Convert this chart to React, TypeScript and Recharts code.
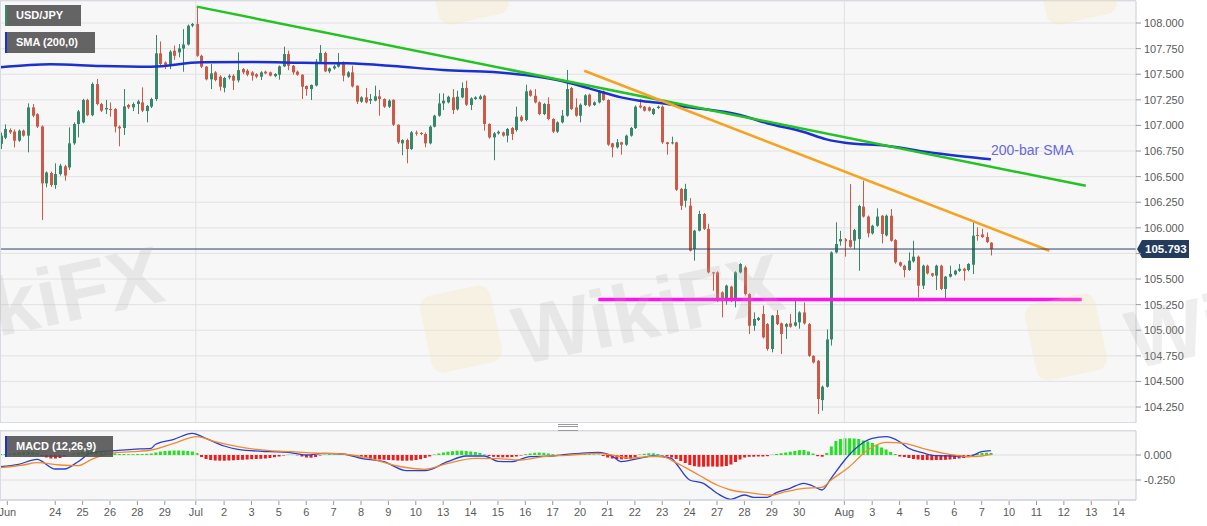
import React from 'react';
import {
  ComposedChart,
  Bar,
  Line,
  Cell,
  XAxis,
  YAxis,
  CartesianGrid,
  ReferenceLine,
} from 'recharts';

// 4H USD/JPY candles (oldest first)
const opens = [
  106.82, 106.88, 106.955, 106.94, 106.851, 106.949, 106.9, 107.176, 107.11, 106.99,
  106.434, 106.535, 106.418, 106.525, 106.6, 106.59, 106.825, 107.014, 107.03, 107.248,
  107.1, 107.404, 107.209, 107.157, 107.16, 107.16, 106.988, 106.975, 107.2, 107.176,
  107.209, 107.225, 107.14, 107.183, 107.258, 107.704, 107.615, 107.593, 107.73, 107.713,
  107.75, 107.79, 107.974, 107.99, 107.68, 107.574, 107.45, 107.518, 107.476, 107.368,
  107.469, 107.485, 107.44, 107.55, 107.535, 107.518, 107.5, 107.476, 107.525, 107.518,
  107.482, 107.495, 107.577, 107.697, 107.583, 107.525, 107.495, 107.385, 107.355, 107.39,
  107.622, 107.707, 107.528, 107.557, 107.574, 107.62, 107.476, 107.518, 107.388, 107.232,
  107.274, 107.242, 107.242, 107.284, 107.258, 107.183, 107.25, 107.007, 106.825, 106.857,
  106.77, 106.93, 106.926, 106.916, 106.825, 106.988, 107.095, 107.215, 107.225, 107.274,
  107.157, 107.274, 107.365, 107.2, 107.258, 107.258, 107.29, 107.014, 106.883, 106.922,
  106.932, 106.9, 106.975, 106.955, 107.085, 107.053, 107.339, 107.29, 107.225, 107.111,
  107.209, 107.063, 106.939, 107.03, 107.095, 107.365, 107.176, 107.095, 107.199, 107.3,
  107.199, 107.225, 107.333, 107.248, 106.825, 106.786, 106.835, 106.812, 106.9, 106.975,
  107.193, 107.183, 107.176, 107.111, 107.17, 107.183, 106.835, 106.825, 106.835, 106.38,
  106.265, 106.216, 105.793, 105.972, 106.135, 105.99, 105.565, 105.565, 105.37, 105.305,
  105.425, 105.288, 105.565, 105.614, 105.353, 105.044, 105.1, 105.158, 105.06, 104.817,
  105.148, 105.067, 105.034, 105.067, 105.044, 105.077, 105.174, 105.06, 104.75, 104.702,
  104.318, 104.448, 104.91, 105.76, 105.868, 105.89, 105.88, 105.874, 105.89, 106.207,
  106.11, 105.946, 106.02, 106.118, 105.926, 106.118, 105.88, 105.663, 105.63, 105.588,
  105.672, 105.718, 105.435, 105.63, 105.555, 105.533, 105.63, 105.403, 105.523, 105.545,
  105.58, 105.6, 105.588, 105.64, 105.93, 105.935, 105.91, 105.855,
];

const highs = [
  106.93, 107.01, 106.971, 106.96, 106.96, 106.96, 107.215, 107.209, 107.12, 107.0,
  106.55, 106.55, 106.63, 106.625, 106.615, 106.98, 107.03, 107.15, 107.26, 107.26,
  107.42, 107.453, 107.22, 107.248, 107.225, 107.17, 107.0, 107.355, 107.21, 107.225,
  107.25, 107.372, 107.2, 107.27, 107.883, 107.82, 107.625, 107.735, 107.78, 107.795,
  107.94, 107.985, 108.0, 108.153, 107.69, 107.58, 107.6, 107.53, 107.49, 107.475,
  107.5, 107.5, 107.713, 107.56, 107.55, 107.53, 107.51, 107.53, 107.535, 107.525,
  107.51, 107.585, 107.769, 107.73, 107.59, 107.535, 107.5, 107.39, 107.4, 107.648,
  107.785, 107.72, 107.565, 107.59, 107.707, 107.625, 107.53, 107.583, 107.39, 107.285,
  107.365, 107.307, 107.388, 107.346, 107.265, 107.255, 107.255, 107.01, 106.865, 106.87,
  106.945, 106.95, 106.935, 106.93, 107.0, 107.105, 107.313, 107.313, 107.29, 107.355,
  107.339, 107.42, 107.437, 107.275, 107.285, 107.3, 107.3, 107.02, 106.935, 106.95,
  106.94, 106.975, 106.985, 107.183, 107.1, 107.398, 107.35, 107.355, 107.235, 107.22,
  107.274, 107.07, 107.04, 107.15, 107.541, 107.375, 107.264, 107.215, 107.305, 107.31,
  107.235, 107.345, 107.34, 107.255, 106.83, 106.867, 106.84, 106.91, 106.985, 107.195,
  107.258, 107.19, 107.185, 107.17, 107.195, 107.195, 106.84, 106.89, 106.84, 106.39,
  106.43, 106.29, 105.98, 106.167, 106.145, 106.04, 105.57, 105.575, 105.38, 105.445,
  105.435, 105.575, 105.655, 105.63, 105.36, 105.174, 105.13, 105.24, 105.07, 105.15,
  105.197, 105.075, 105.07, 105.158, 105.288, 105.185, 105.27, 105.07, 104.755, 104.71,
  104.46, 105.008, 105.77, 106.054, 105.97, 105.9, 106.427, 105.99, 106.225, 106.46,
  106.12, 106.03, 106.19, 106.125, 106.13, 106.184, 105.89, 105.67, 105.64, 105.76,
  105.874, 105.73, 105.64, 105.64, 105.56, 105.64, 105.64, 105.53, 105.63, 105.59,
  105.647, 105.61, 105.655, 106.054, 106.005, 105.99, 105.955, 105.86,
];

const lows = [
  106.77, 106.865, 106.916, 106.786, 106.84, 106.89, 106.737, 107.08, 106.975, 106.076,
  106.395, 106.4, 106.38, 106.51, 106.46, 106.565, 106.81, 106.883, 107.02, 107.09,
  107.09, 107.195, 107.13, 107.111, 107.085, 106.932, 106.796, 106.906, 107.16, 107.14,
  107.111, 107.13, 107.03, 107.17, 107.24, 107.59, 107.55, 107.55, 107.64, 107.665,
  107.525, 107.78, 107.96, 107.67, 107.56, 107.44, 107.355, 107.43, 107.339, 107.323,
  107.45, 107.345, 107.42, 107.5, 107.48, 107.437, 107.46, 107.443, 107.5, 107.478,
  107.47, 107.447, 107.57, 107.54, 107.495, 107.485, 107.258, 107.29, 107.248, 107.38,
  107.61, 107.52, 107.51, 107.545, 107.565, 107.43, 107.465, 107.37, 107.209, 107.22,
  107.215, 107.209, 107.235, 107.095, 107.17, 107.17, 106.995, 106.82, 106.71, 106.63,
  106.76, 106.9, 106.905, 106.786, 106.815, 106.98, 107.085, 107.15, 107.215, 107.111,
  107.145, 107.265, 107.19, 107.15, 107.25, 107.25, 106.949, 106.87, 106.66, 106.91,
  106.89, 106.835, 106.857, 106.94, 107.035, 107.04, 107.28, 107.215, 107.1, 107.1,
  107.05, 106.925, 106.925, 107.02, 107.085, 107.15, 107.085, 107.03, 107.19, 107.18,
  107.19, 107.215, 107.24, 106.8, 106.688, 106.775, 106.714, 106.8, 106.89, 106.965,
  107.165, 107.135, 107.135, 107.1, 107.16, 106.82, 106.714, 106.815, 106.36, 106.174,
  106.2, 105.77, 105.679, 105.965, 105.98, 105.555, 105.386, 105.275, 105.126, 105.25,
  105.275, 105.223, 105.555, 105.34, 104.963, 104.995, 105.09, 104.92, 104.8, 104.784,
  105.05, 104.768, 104.915, 105.025, 105.035, 105.015, 105.055, 104.74, 104.675, 104.182,
  104.214, 104.44, 104.85, 105.75, 105.826, 105.718, 105.805, 105.793, 105.581, 106.1,
  105.907, 105.935, 106.01, 105.848, 105.915, 105.864, 105.65, 105.62, 105.516, 105.58,
  105.66, 105.321, 105.403, 105.545, 105.52, 105.393, 105.39, 105.314, 105.515, 105.535,
  105.57, 105.484, 105.575, 105.549, 105.874, 105.9, 105.85, 105.73,
];

const closes = [
  106.9, 106.965, 106.932, 106.851, 106.949, 106.9, 107.176, 107.095, 106.988, 106.434,
  106.54, 106.418, 106.525, 106.607, 106.51, 106.825, 107.014, 107.137, 107.248, 107.1,
  107.404, 107.209, 107.144, 107.17, 107.155, 106.988, 106.971, 107.186, 107.176, 107.209,
  107.235, 107.144, 107.19, 107.258, 107.704, 107.6, 107.593, 107.72, 107.68, 107.752,
  107.79, 107.974, 107.99, 107.68, 107.574, 107.45, 107.508, 107.443, 107.378, 107.463,
  107.485, 107.437, 107.54, 107.518, 107.495, 107.486, 107.476, 107.518, 107.508, 107.486,
  107.502, 107.577, 107.697, 107.583, 107.518, 107.495, 107.378, 107.355, 107.395, 107.622,
  107.707, 107.528, 107.557, 107.577, 107.613, 107.486, 107.518, 107.381, 107.232, 107.274,
  107.225, 107.258, 107.284, 107.258, 107.183, 107.242, 107.007, 106.835, 106.857, 106.77,
  106.932, 106.92, 106.916, 106.825, 106.988, 107.095, 107.215, 107.242, 107.28, 107.15,
  107.28, 107.365, 107.202, 107.264, 107.274, 107.284, 107.014, 106.883, 106.922, 106.938,
  106.9, 106.965, 106.916, 107.085, 107.046, 107.333, 107.29, 107.225, 107.111, 107.209,
  107.063, 106.939, 107.03, 107.095, 107.355, 107.16, 107.095, 107.202, 107.294, 107.193,
  107.225, 107.333, 107.248, 106.812, 106.786, 106.835, 106.812, 106.9, 106.975, 107.183,
  107.176, 107.144, 107.144, 107.16, 107.183, 106.835, 106.818, 106.835, 106.372, 106.216,
  106.38, 105.777, 105.972, 106.135, 105.99, 105.565, 105.555, 105.288, 105.288, 105.435,
  105.288, 105.565, 105.646, 105.353, 105.044, 105.11, 105.12, 104.93, 104.817, 105.142,
  105.06, 104.963, 105.06, 105.034, 105.077, 105.174, 105.067, 104.75, 104.686, 104.328,
  104.448, 104.91, 105.76, 105.842, 105.89, 105.868, 105.815, 105.978, 106.213, 106.11,
  105.946, 106.02, 106.11, 105.94, 106.118, 105.874, 105.663, 105.63, 105.588, 105.679,
  105.718, 105.435, 105.63, 105.555, 105.533, 105.63, 105.403, 105.523, 105.55, 105.582,
  105.6, 105.58, 105.647, 105.923, 105.92, 105.91, 105.861, 105.793,
];

// 200-bar SMA, sampled at candle indices
const smaIdx = [0, 11, 22, 33, 44, 55, 66, 76, 86, 97, 108, 115, 122, 129, 136, 140, 145, 151, 162, 168, 176, 181, 185, 194, 205, 217];
const smaVal = [
  107.567, 107.597, 107.58, 107.573, 107.616, 107.619, 107.612, 107.606, 107.58, 107.541,
  107.521, 107.492, 107.443, 107.362, 107.274, 107.241, 107.216, 107.177, 107.102, 107.021,
  106.936, 106.864, 106.831, 106.802, 106.728, 106.669,
];

// MACD (12,26,9) histogram, one bar per candle
const hist = [
  0.01, 0.01, 0.015, 0.02, 0.025, 0.03, 0.033, 0.03, 0.02, -0.01,
  -0.025, -0.035, -0.035, -0.03, -0.015, 0.005, 0.015, 0.025, 0.035, 0.04,
  0.04, 0.038, 0.033, 0.028, 0.022, 0.015, 0.01, 0.01, 0.008, 0.008,
  0.01, 0.01, 0.012, 0.015, 0.025, 0.035, 0.04, 0.043, 0.045, 0.045,
  0.043, 0.04, 0.035, 0.02, -0.02, -0.04, -0.05, -0.055, -0.057, -0.057,
  -0.055, -0.053, -0.05, -0.048, -0.045, -0.042, -0.04, -0.038, -0.035, -0.03,
  -0.022, -0.015, -0.005, 0.003, 0.002, -0.003, -0.015, -0.025, -0.027, -0.02,
  -0.005, 0.005, 0.008, 0.006, 0.004, 0.003, 0.001, -0.005, -0.015, -0.025,
  -0.032, -0.038, -0.042, -0.045, -0.048, -0.05, -0.052, -0.055, -0.057, -0.057,
  -0.055, -0.05, -0.042, -0.03, -0.015, 0.005, 0.015, 0.025, 0.033, 0.038,
  0.043, 0.043, 0.04, 0.035, 0.03, 0.02, 0.005, -0.01, -0.018, -0.022,
  -0.023, -0.022, -0.02, -0.015, -0.005, 0.008, 0.015, 0.022, 0.025, 0.022,
  0.015, 0.008, 0.003, -0.003, 0.005, 0.01, 0.012, 0.012, 0.01, 0.008,
  0.006, 0.005, -0.01, -0.025, -0.035, -0.04, -0.043, -0.04, -0.035, -0.025,
  0.005, 0.012, 0.017, 0.017, 0.01, -0.005, -0.015, -0.025, -0.04, -0.06,
  -0.08, -0.1, -0.112, -0.117, -0.117, -0.115, -0.115, -0.117, -0.115, -0.11,
  -0.095, -0.07, -0.045, -0.025, -0.018, -0.017, -0.015, -0.015, -0.012, 0.003,
  0.01, 0.018, 0.025, 0.033, 0.04, 0.048, 0.05, 0.035, 0.015, -0.012,
  -0.017, 0.02, 0.085, 0.14, 0.16, 0.167, 0.167, 0.165, 0.16, 0.145,
  0.135, 0.12, 0.1, 0.075, 0.055, 0.03, 0.01, -0.015, -0.02, -0.03,
  -0.04, -0.045, -0.05, -0.05, -0.052, -0.05, -0.05, -0.048, -0.045, -0.04,
  -0.035, -0.03, -0.02, 0.005, 0.015, 0.02, 0.023, 0.02,
];

const macdIdx = [0, 4, 8, 12, 14, 17, 20, 25, 29, 33, 34, 38, 42, 45, 49, 52, 59, 63, 67, 71, 75, 79, 84, 89, 93, 98, 102, 106, 109, 112, 116, 121, 124, 127, 131, 134, 136, 140, 143, 147, 148, 151, 154, 157, 160, 163, 165, 168, 170, 173, 176, 178, 180, 182, 185, 187, 191, 194, 197, 199, 202, 205, 209, 212, 215, 217];
const macdVal = [
  -0.117, -0.093, -0.043, -0.14, -0.14, -0.067, 0.023, 0.043, 0.057, 0.067, 0.107, 0.157, 0.217, 0.167, 0.09, 0.057,
  0.033, 0.027, 0, 0.017, 0.01, -0.033, -0.067, -0.157, -0.157, -0.067, -0.01, -0.01, -0.063, -0.067, -0.017, -0.01,
  0.007, 0.017, 0.025, -0.01, -0.067, -0.033, -0.01, -0.033, -0.083, -0.25, -0.283, -0.383, -0.443, -0.4, -0.423, -0.423,
  -0.377, -0.333, -0.283, -0.31, -0.35, -0.233, -0.05, 0.05, 0.167, 0.183, 0.133, 0.067, 0.023, -0.007, -0.01, -0.017,
  0.033, 0.043,
];

const sigIdx = [0, 5, 8, 13, 17, 20, 24, 29, 33, 38, 43, 47, 52, 59, 64, 67, 71, 75, 80, 87, 93, 98, 104, 109, 114, 119, 124, 131, 135, 138, 142, 145, 148, 153, 157, 160, 164, 169, 172, 176, 180, 182, 186, 190, 194, 198, 202, 208, 212, 215, 217];
const sigVal = [
  -0.127, -0.1, -0.077, -0.1, -0.107, -0.043, 0.017, 0.033, 0.05, 0.117, 0.183, 0.133, 0.083, 0.043, 0.033, 0.023,
  0.017, 0.01, -0.023, -0.11, -0.143, -0.083, -0.033, -0.037, -0.05, -0.017, -0.003, 0.017, -0.01, -0.033, -0.017,
  -0.017, -0.077, -0.2, -0.3, -0.35, -0.377, -0.4, -0.367, -0.333, -0.323, -0.25, -0.117, 0.05, 0.127, 0.117, 0.067,
  0.007, -0.017, -0.01, 0.003,
];

// x-axis day labels, at candle positions
const tickIdx = [1.5, 12, 18, 24, 30, 36, 42.8, 49, 55, 61, 67, 73, 79, 85, 91, 97, 103, 109, 115, 121, 127, 133, 139, 145, 151, 157, 163, 169, 175, 184.9, 191, 197, 203, 209, 215, 221, 227, 233, 239, 245];
const tickLabels = ['Jun', '24', '25', '26', '28', '29', 'Jul', '2', '3', '5', '6', '7', '8', '9', '10', '13', '14', '15', '16', '17', '20', '21', '22', '23', '24', '27', '28', '29', '30', 'Aug', '3', '4', '5', '6', '7', '10', '11', '12', '13', '14'];

const priceTicks = [104.25, 104.5, 104.75, 105, 105.25, 105.5, 105.75, 106, 106.25, 106.5, 106.75, 107, 107.25, 107.5, 107.75, 108];
// this tick's label sits under the last-price badge in the original
const hiddenPriceTick = 105.75;
const monthStarts = [42.8, 184.9];

// drawn trend lines [x1, y1, x2, y2] in candle index / price
const greenLine = [43, 108.16, 237.8, 106.41];
const orangeLine = [127.9, 107.534, 229.8, 105.776];
const magentaLine = [131, 105.3, 236.9, 105.3];

const GREEN = '#37876a';
const RED = '#cd5a47';
const FONT = '"Liberation Sans", Arial, sans-serif';
const X_DOMAIN: [number, number] = [-0.1, 248.8];

const candleData = opens.map((o, i) => ({ i, o, h: highs[i], l: lows[i], c: closes[i], sma: null as number | null }));
smaIdx.forEach((k, j) => {
  candleData[k].sma = smaVal[j];
});

const macdData = hist.map((v, i) => ({ i, hist: v, macd: null as number | null, sig: null as number | null }));
macdIdx.forEach((k, j) => {
  macdData[k].macd = macdVal[j];
});
sigIdx.forEach((k, j) => {
  macdData[k].sig = sigVal[j];
});

const lastClose = closes[closes.length - 1];

const Candle = (props: any) => {
  const { x, y, width, height, payload } = props;
  if (!payload || x == null || y == null) return null;
  const { o, h, l, c } = payload;
  const top = Math.min(y, y + height);
  const span = Math.abs(height);
  const k = h > l ? span / (h - l) : 0;
  const yo = top + (h - o) * k;
  const yc = top + (h - c) * k;
  const color = c >= o ? GREEN : RED;
  const cx = Math.round(x + width / 2) + 0.5;
  const bTop = Math.min(yo, yc);
  const bH = Math.max(1, Math.abs(yo - yc));
  return (
    <g>
      <line x1={cx} x2={cx} y1={top} y2={top + span} stroke={color} strokeWidth={1} />
      <rect x={cx - 1.5} y={bTop} width={3} height={bH} fill={color} />
    </g>
  );
};

const PriceBadge = (props: any) => {
  const vb = props.viewBox;
  if (!vb) return null;
  const x = vb.x + vb.width + 1;
  const y = vb.y;
  return (
    <g>
      <path d={`M${x} ${y} L${x + 5} ${y - 9} L${x + 52} ${y - 9} L${x + 52} ${y + 9} L${x + 5} ${y + 9} Z`} fill="#233b5d" />
      <text x={x + 8} y={y + 4} fill="#fff" fontSize={11.5} fontWeight="bold" fontFamily={FONT}>
        {lastClose.toFixed(3)}
      </text>
    </g>
  );
};

const seg = (p: number[]) => [
  { x: p[0], y: p[1] },
  { x: p[2], y: p[3] },
];

const boxStyle = (border: string): React.CSSProperties => ({
  position: 'absolute',
  left: 5,
  height: 21,
  lineHeight: '21px',
  background: 'rgba(80,80,80,0.88)',
  color: '#fff',
  borderLeft: `2px solid ${border}`,
  fontFamily: FONT,
  fontSize: 11,
  fontWeight: 'bold',
  paddingLeft: 9,
  boxSizing: 'border-box',
});

const mark: React.CSSProperties = {
  position: 'absolute',
  fontFamily: FONT,
  fontWeight: 'bold',
  fontSize: 82,
  color: 'rgba(170,170,170,0.2)',
  transform: 'rotate(-12deg)',
  transformOrigin: 'left top',
  pointerEvents: 'none',
  whiteSpace: 'nowrap',
};

const logo = (left: number, top: number): React.CSSProperties => ({
  position: 'absolute',
  left,
  top,
  width: 72,
  height: 78,
  borderRadius: 12,
  background: 'rgba(245,225,160,0.22)',
  transform: 'rotate(-12deg)',
  pointerEvents: 'none',
});

const tickStyle = { fontSize: 11, fill: '#5a5a5a', fontFamily: FONT };

export default function App() {
  return (
    <div style={{ position: 'absolute', left: 0, top: 0, width: 1207, height: 526, background: '#fff', overflow: 'hidden' }}>
      <div style={{ position: 'absolute', left: 0, top: 0 }}>
        <ComposedChart width={1207} height={423} data={candleData} margin={{ top: 1, right: 0, left: 0, bottom: 0 }}>
          <CartesianGrid vertical={false} stroke="#e2e2e2" fill="#f7f7f7" />
          <XAxis type="number" dataKey="i" domain={X_DOMAIN} allowDataOverflow hide />
          <YAxis
            orientation="right"
            width={71}
            domain={[104.094, 108.215]}
            allowDataOverflow
            ticks={priceTicks}
            interval={0}
            tickFormatter={(v: number) => (v === hiddenPriceTick ? '' : v.toFixed(3))}
            tick={tickStyle}
            tickSize={5}
            tickMargin={3}
            tickLine={{ stroke: '#9a9a9a' }}
            axisLine={{ stroke: '#c9ccd8' }}
          />
          {monthStarts.map((m) => (
            <ReferenceLine key={m} x={m} stroke="#e0e0e0" />
          ))}
          <Bar dataKey={(d: any) => [d.l, d.h]} barSize={3} shape={(p: any) => <Candle {...p} />} isAnimationActive={false} />
          <Line dataKey="sma" type="monotone" connectNulls stroke="#1a30d2" strokeWidth={2.5} dot={false} isAnimationActive={false} />
          <ReferenceLine segment={seg(greenLine)} stroke="#22c322" strokeWidth={2.5} />
          <ReferenceLine segment={seg(orangeLine)} stroke="#f5a321" strokeWidth={2.5} />
          <ReferenceLine segment={seg(magentaLine)} stroke="#ff10ee" strokeWidth={3.5} />
          <ReferenceLine y={lastClose} stroke="#2a4466" strokeWidth={1} label={<PriceBadge />} />
        </ComposedChart>
      </div>

      <div style={{ position: 'absolute', left: 0, top: 430 }}>
        <ComposedChart width={1207} height={96} data={macdData} margin={{ top: 1, right: 0, left: 0, bottom: 0 }}>
          <CartesianGrid vertical={false} stroke="#dedede" fill="#f7f7f7" />
          <XAxis
            type="number"
            dataKey="i"
            domain={X_DOMAIN}
            allowDataOverflow
            ticks={tickIdx}
            interval={0}
            tickFormatter={(_v: number, idx: number) => tickLabels[idx]}
            tick={tickStyle}
            height={26}
            tickSize={5}
            tickMargin={3}
            tickLine={{ stroke: '#9a9a9a' }}
            axisLine={{ stroke: '#c9ccd8' }}
          />
          <YAxis
            orientation="right"
            width={71}
            domain={[-0.45, 0.24]}
            allowDataOverflow
            ticks={[0, -0.25]}
            interval={0}
            tickFormatter={(v: number) => v.toFixed(3)}
            tick={tickStyle}
            tickSize={5}
            tickMargin={3}
            tickLine={{ stroke: '#9a9a9a' }}
            axisLine={{ stroke: '#c9ccd8' }}
          />
          {monthStarts.map((m) => (
            <ReferenceLine key={m} x={m} stroke="#e0e0e0" />
          ))}
          <Bar dataKey="hist" barSize={3} isAnimationActive={false}>
            {macdData.map((d) => (
              <Cell key={d.i} fill={d.hist >= 0 ? '#22e022' : '#ee1c1c'} />
            ))}
          </Bar>
          <Line dataKey="macd" type="monotone" connectNulls stroke="#2a3fd0" strokeWidth={1.3} dot={false} isAnimationActive={false} />
          <Line dataKey="sig" type="monotone" connectNulls stroke="#f08a30" strokeWidth={1.3} dot={false} isAnimationActive={false} />
        </ComposedChart>
      </div>

      {/* pane borders */}
      <div style={{ position: 'absolute', left: 0, top: 0, width: 1136, height: 423, border: '1px solid #d8dae6', borderRight: 'none', boxSizing: 'border-box', pointerEvents: 'none' }} />
      <div style={{ position: 'absolute', left: 0, top: 430, width: 1136, height: 71, border: '1px solid #d8dae6', borderRight: 'none', boxSizing: 'border-box', pointerEvents: 'none' }} />
      <div style={{ position: 'absolute', left: 558, top: 424, width: 20, height: 5, borderTop: '1px solid #999', borderBottom: '1px solid #999' }} />
      <div style={{ position: 'absolute', left: 558, top: 426, width: 20, height: 0, borderTop: '1px solid #999' }} />

      {/* legend boxes and labels */}
      <div style={{ ...boxStyle(GREEN), top: 5, width: 76 }}>USD/JPY</div>
      <div style={{ ...boxStyle('#1a30d2'), top: 32, width: 90 }}>SMA (200,0)</div>
      <div style={{ ...boxStyle('#1a30d2'), top: 436, width: 108 }}>MACD (12,26,9)</div>
      <div style={{ position: 'absolute', left: 991, top: 142, fontFamily: FONT, fontSize: 14, color: '#6767e0' }}>200-bar SMA</div>

      {/* faint watermarks */}
      <div style={logo(425, 290)} />
      <div style={logo(1030, 298)} />
      <div style={logo(432, -58)} />
      <div style={logo(1040, -58)} />
      <div style={{ ...mark, left: 505, top: 292 }}>WikiFX</div>
      <div style={{ ...mark, left: -115, top: 284 }}>WikiFX</div>
      <div style={{ ...mark, left: 1118, top: 296 }}>WikiFX</div>
    </div>
  );
}
